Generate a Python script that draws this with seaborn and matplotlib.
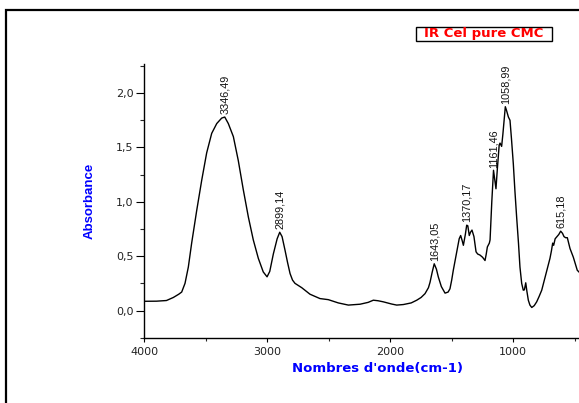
import numpy as np
import pandas as pd
import matplotlib
matplotlib.use('Agg')
import matplotlib.pyplot as plt
from matplotlib.patches import Rectangle
from matplotlib.ticker import MultipleLocator, FuncFormatter
import seaborn as sns

# Spectre IR
nombre_onde = [4000, 3900, 3820, 3764, 3720, 3696, 3669, 3642, 3615, 3574, 3533, 3493,
               3452, 3411, 3371, 3346, 3317, 3276, 3236, 3195, 3154, 3114, 3073, 3033,
               3002, 2980, 2951, 2920, 2899, 2880, 2856, 2835, 2815, 2795, 2775, 2720,
               2653, 2572, 2504, 2423, 2341, 2246, 2180, 2138, 2100, 2057, 1990, 1948,
               1894, 1830, 1785, 1750, 1718, 1690, 1677, 1660, 1643, 1625, 1610, 1585,
               1555, 1530, 1515, 1501, 1488, 1460, 1440, 1428, 1415, 1406, 1390, 1379,
               1370, 1358, 1348, 1336, 1320, 1303, 1290, 1271, 1250, 1230, 1220, 1211,
               1195, 1189, 1175, 1161, 1150, 1141, 1130, 1115, 1108, 1095, 1085, 1065,
               1055, 1040, 1027, 1015, 1000, 987, 973, 958, 946, 932, 919, 910, 899, 890,
               878, 865, 850, 830, 810, 790, 769, 750, 728, 702, 690, 680, 672, 660, 645,
               630, 615, 600, 588, 575, 561, 550, 539, 512, 480, 466, 450]
absorbance = [0.085, 0.086, 0.092, 0.12, 0.15, 0.17, 0.25, 0.40, 0.62, 0.92, 1.20, 1.45,
              1.63, 1.72, 1.77, 1.78, 1.72, 1.60, 1.38, 1.11, 0.86, 0.65, 0.48, 0.355,
              0.31, 0.36, 0.52, 0.66, 0.72, 0.68, 0.555, 0.44, 0.34, 0.28, 0.25, 0.21,
              0.15, 0.11, 0.10, 0.07, 0.05, 0.058, 0.075, 0.095, 0.09, 0.08, 0.06, 0.05,
              0.055, 0.07, 0.095, 0.12, 0.155, 0.21, 0.26, 0.35, 0.43, 0.38, 0.31, 0.22,
              0.16, 0.17, 0.20, 0.28, 0.37, 0.54, 0.66, 0.69, 0.64, 0.60, 0.70, 0.785,
              0.78, 0.69, 0.72, 0.74, 0.68, 0.54, 0.52, 0.51, 0.49, 0.46, 0.52, 0.585,
              0.62, 0.65, 1.0, 1.29, 1.20, 1.12, 1.30, 1.52, 1.54, 1.51, 1.62, 1.875,
              1.84, 1.78, 1.75, 1.58, 1.35, 1.10, 0.86, 0.62, 0.40, 0.25, 0.187, 0.19, 0.255, 0.18,
              0.095, 0.05, 0.028, 0.045, 0.08, 0.13, 0.187, 0.27, 0.37, 0.48, 0.55, 0.62, 0.60, 0.66, 0.68,
              0.70, 0.73, 0.71, 0.68, 0.67, 0.67, 0.62, 0.57, 0.49, 0.37, 0.355, 0.33]

# Pics annotés
pics_pos = [3346, 2899, 1643, 1379, 1161, 1065, 615]
pics_abs = [1.78, 0.72, 0.43, 0.785, 1.29, 1.875, 0.73]
pics_txt = ['3346,49', '2899,14', '1643,05', '1370,17', '1161,46', '1058,99', '615,18']

df = pd.DataFrame({'onde': nombre_onde, 'abs': absorbance})

sns.set_style('ticks')
plt.rcParams['font.family'] = 'DejaVu Sans'

W, H = 579, 403
fig = plt.figure(figsize=(W / 100, H / 100), dpi=100)
ax = fig.add_axes([144.3 / W, 1 - 337.7 / H, 1 - 144.3 / W, (337.7 - 64.3) / H])

sns.lineplot(data=df, x='onde', y='abs', ax=ax, color='black', linewidth=1.0, sort=False)

ax.set_xlim(4000, 466)
ax.set_ylim(-0.25, 2.265)
ax.xaxis.set_major_locator(MultipleLocator(1000))
ax.xaxis.set_minor_locator(MultipleLocator(500))
ax.yaxis.set_major_locator(MultipleLocator(0.5))
ax.yaxis.set_minor_locator(MultipleLocator(0.25))
ax.yaxis.set_major_formatter(FuncFormatter(lambda v, p: f'{v:.1f}'.replace('.', ',')))
ax.xaxis.set_major_formatter(FuncFormatter(lambda v, p: f'{v:.0f}'))

for s in ['top', 'right']:
    ax.spines[s].set_visible(False)
for s in ['left', 'bottom']:
    ax.spines[s].set_color('black')
    ax.spines[s].set_linewidth(1.0)

ax.tick_params(axis='y', which='major', length=5.5, width=0.8, pad=2.4, labelsize=8, colors='black')
ax.tick_params(axis='y', which='minor', length=3, width=0.8, left=True)
ax.tick_params(axis='x', which='major', length=3, width=0.8, pad=3.5, labelsize=8, colors='black')
ax.tick_params(axis='x', which='minor', length=2.5, width=0.8, bottom=True)
for t in ax.get_xticklabels() + ax.get_yticklabels():
    t.set_color('#222222')

ax.set_xlabel("Nombres d'onde(cm-1)", color='#0000ff', fontsize=9.5, fontweight='bold')
ax.set_ylabel('Absorbance', color='#0000ff', fontsize=9.5, fontweight='bold',
              family='Liberation Sans')
ax.xaxis.set_label_coords((378 - 144.3) / (W - 144.3), -0.089)
ax.yaxis.set_label_coords(-0.113, 0.5)

for xp, yp, txt in zip(pics_pos, pics_abs, pics_txt):
    ax.annotate(txt, xy=(xp, yp), xytext=(0, 2), textcoords='offset points',
                rotation=90, ha='center', va='bottom', fontsize=7.8,
                family='Liberation Sans', color='#111111')

# Cadre de la page
fig.patches.append(Rectangle((6 / W, -0.2), 1.5, 1 - 10 / H + 0.2, transform=fig.transFigure,
                             fill=False, edgecolor='black', linewidth=1.6))

# Légende
fig.patches.append(Rectangle((416 / W, 1 - 40.7 / H), 136 / W, 13.7 / H,
                             transform=fig.transFigure, facecolor='white',
                             edgecolor='black', linewidth=1.0))
fig.text(484 / W, 1 - 33.8 / H, 'IR Cel pure CMC', color='red', fontsize=9.5,
         fontweight='bold', ha='center', va='center')

fig.savefig('out.png', dpi=100)
